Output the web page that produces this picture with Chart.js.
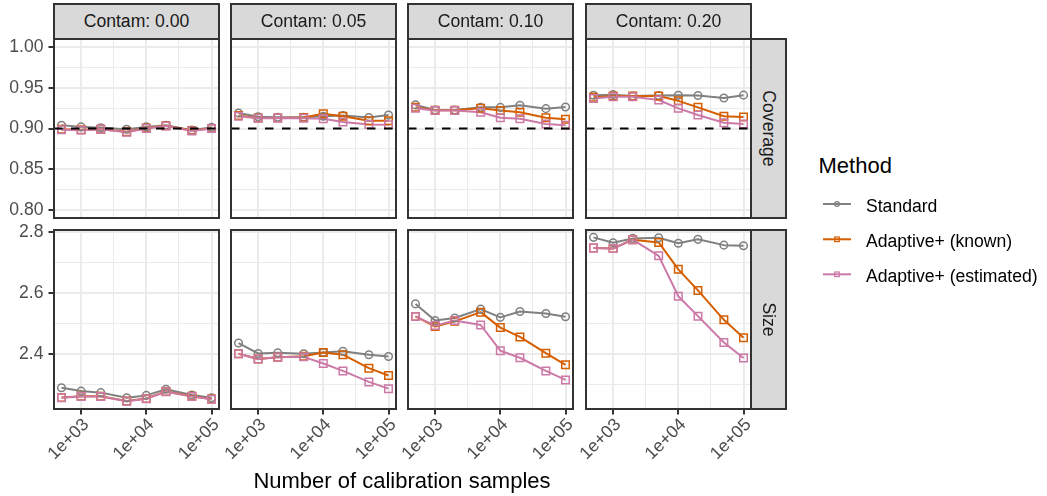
<!DOCTYPE html>
<html><head><meta charset="utf-8">
<script src="https://cdn.jsdelivr.net/npm/chart.js@4.4.1/dist/chart.umd.min.js"></script>
<style>
html,body{margin:0;padding:0;background:#fff;}
body{width:1047px;height:496px;overflow:hidden;position:relative;font-family:"Liberation Sans",Arial,sans-serif;}
canvas{position:absolute;}
.strip{position:absolute;background:#D9D9D9;border:2px solid #333;box-sizing:border-box;color:#1A1A1A;font-size:17.6px;display:flex;align-items:center;justify-content:center;white-space:nowrap;z-index:2;}
.strip span{display:inline-block;}
.txt{position:absolute;white-space:nowrap;z-index:3;}
</style></head><body>
<script>
// ---------------- DATA ----------------
const N_CAL = [500, 1000, 2000, 5000, 10000, 20000, 50000, 100000];
const METHODS = ['Standard', 'Adaptive+ (known)', 'Adaptive+ (estimated)'];
const CONTAM = ['0.00', '0.05', '0.10', '0.20'];
const ROW_LABELS = ['Coverage', 'Size'];
const TARGET_COVERAGE = 0.90;

// Coverage
const COV_STD_000 = [0.904, 0.902, 0.901, 0.899, 0.902, 0.904, 0.898, 0.9015];
const COV_KN_000  = [0.899, 0.8985, 0.899, 0.896, 0.9005, 0.9035, 0.8975, 0.900];
const COV_EST_000 = [0.8985, 0.898, 0.899, 0.8955, 0.900, 0.903, 0.897, 0.900];
const COV_STD_005 = [0.919, 0.9145, 0.9138, 0.9138, 0.915, 0.916, 0.9135, 0.9165];
const COV_KN_005  = [0.916, 0.913, 0.913, 0.9135, 0.918, 0.915, 0.9096, 0.9095];
const COV_EST_005 = [0.915, 0.9125, 0.913, 0.9125, 0.912, 0.908, 0.9048, 0.9045];
const COV_STD_010 = [0.929, 0.9227, 0.9227, 0.926, 0.926, 0.9285, 0.9244, 0.9264];
const COV_KN_010  = [0.926, 0.9223, 0.9223, 0.9248, 0.922, 0.920, 0.9133, 0.9113];
const COV_EST_010 = [0.925, 0.922, 0.922, 0.920, 0.9133, 0.912, 0.9055, 0.904];
const COV_STD_020 = [0.9408, 0.9416, 0.940, 0.9405, 0.9408, 0.9405, 0.9375, 0.941];
const COV_KN_020  = [0.9383, 0.940, 0.940, 0.940, 0.934, 0.926, 0.915, 0.914];
const COV_EST_020 = [0.937, 0.939, 0.939, 0.935, 0.9248, 0.9166, 0.907, 0.9055];

// Size
const SIZE_STD_000 = [2.290, 2.279, 2.274, 2.257, 2.265, 2.285, 2.266, 2.257];
const SIZE_KN_000  = [2.258, 2.262, 2.262, 2.247, 2.255, 2.278, 2.262, 2.253];
const SIZE_EST_000 = [2.257, 2.261, 2.261, 2.246, 2.254, 2.277, 2.261, 2.252];
const SIZE_STD_005 = [2.436, 2.402, 2.404, 2.401, 2.405, 2.409, 2.398, 2.392];
const SIZE_KN_005  = [2.401, 2.384, 2.390, 2.393, 2.405, 2.398, 2.354, 2.330];
const SIZE_EST_005 = [2.401, 2.384, 2.390, 2.391, 2.369, 2.345, 2.309, 2.287];
const SIZE_STD_010 = [2.564, 2.5095, 2.518, 2.547, 2.520, 2.539, 2.5325, 2.522];
const SIZE_KN_010  = [2.523, 2.490, 2.507, 2.537, 2.4865, 2.456, 2.403, 2.365];
const SIZE_EST_010 = [2.523, 2.493, 2.5095, 2.495, 2.411, 2.388, 2.345, 2.3155];
const SIZE_STD_020 = [2.7815, 2.764, 2.778, 2.780, 2.762, 2.775, 2.756, 2.754];
const SIZE_KN_020  = [2.747, 2.745, 2.774, 2.765, 2.677, 2.608, 2.512, 2.4536];
const SIZE_EST_020 = [2.747, 2.745, 2.774, 2.721, 2.589, 2.524, 2.438, 2.387];

// Ticks
const X_TICKS = [1e3, 1e4, 1e5];
const X_TICK_LABELS = ['1e+03', '1e+04', '1e+05'];
const X_MINOR = [3162.2777, 31622.777];
const COV_TICKS = [0.80, 0.85, 0.90, 0.95, 1.00];
const COV_TICK_LABELS = ['0.80', '0.85', '0.90', '0.95', '1.00'];
const COV_MINOR = [0.825, 0.875, 0.925, 0.975];
const SIZE_TICKS = [2.4, 2.6, 2.8];
const SIZE_TICK_LABELS = ['2.4', '2.6', '2.8'];
const SIZE_MINOR = [2.3, 2.5, 2.7];

// Axis limits
const X_MIN = 383.7, X_MAX = 130300;
const COV_MIN = 0.79, COV_MAX = 1.01;
const SIZE_MIN = 2.2205, SIZE_MAX = 2.8055;

const COLORS = ['#808080', '#D55E00', '#CC79A7'];

const COVERAGE = [
  [COV_STD_000, COV_KN_000, COV_EST_000],
  [COV_STD_005, COV_KN_005, COV_EST_005],
  [COV_STD_010, COV_KN_010, COV_EST_010],
  [COV_STD_020, COV_KN_020, COV_EST_020]
];
const SIZE = [
  [SIZE_STD_000, SIZE_KN_000, SIZE_EST_000],
  [SIZE_STD_005, SIZE_KN_005, SIZE_EST_005],
  [SIZE_STD_010, SIZE_KN_010, SIZE_EST_010],
  [SIZE_STD_020, SIZE_KN_020, SIZE_EST_020]
];

// ---------------- LAYOUT ----------------
const COLS_L = [54, 231, 408, 586], PW = 165;
const ROWS_T = [39, 230], PH = 179;
const XAXIS_H = 75;
const FONT = 'Liberation Sans';

function findIdx(v, arr) {
  for (let i = 0; i < arr.length; i++) if (Math.abs(arr[i] - v) <= 1e-7 * Math.max(1, Math.abs(v))) return i;
  return -1;
}

const borderPlugin = {
  id: 'panelBorder',
  afterDraw(chart) {
    const { ctx, chartArea: a } = chart;
    ctx.save();
    ctx.strokeStyle = '#333333';
    ctx.lineWidth = 2;
    ctx.strokeRect(a.left, a.top, a.right - a.left, a.bottom - a.top);
    ctx.restore();
  }
};

function gridOpts(majors, showTicks) {
  return {
    color: '#EBEBEB',
    lineWidth: (c) => (c.tick && findIdx(c.tick.value, majors) >= 0) ? 2 : 1,
    drawTicks: showTicks,
    tickLength: 5.5,
    tickWidth: 2,
    tickColor: (c) => (c.tick && findIdx(c.tick.value, majors) >= 0) ? '#333333' : 'rgba(0,0,0,0)'
  };
}

function makePanel(r, c) {
  const padL = c === 0 ? 0 : (r === 1 ? 14 : 2), yW = c === 0 ? 54 : 0, padR = 2, padT = 12;
  const xH = r === 1 ? XAXIS_H : 0, padB = r === 1 ? 0 : 2;
  const w = padL + yW + PW + padR, h = padT + PH + xH + padB;
  const canvas = document.createElement('canvas');
  canvas.width = w; canvas.height = h;
  canvas.style.left = (COLS_L[c] - yW - padL) + 'px';
  canvas.style.top = (ROWS_T[r] - padT) + 'px';
  canvas.style.width = w + 'px'; canvas.style.height = h + 'px';
  document.body.appendChild(canvas);

  const series = r === 0 ? COVERAGE[c] : SIZE[c];
  const datasets = [];
  series.forEach((vals, m) => {
    datasets.push({
      data: N_CAL.map((n, i) => ({ x: n, y: vals[i] })),
      borderColor: COLORS[m], borderWidth: 2, borderJoinStyle: 'round',
      pointRadius: 0, pointHoverRadius: 0, fill: false, tension: 0, order: 20 - m
    });
  });
  series.forEach((vals, m) => {
    datasets.push({
      data: N_CAL.map((n, i) => ({ x: n, y: vals[i] })),
      showLine: false,
      pointStyle: m === 0 ? 'circle' : 'rect',
      pointRadius: m === 0 ? 3.8 : 5.3,
      pointHoverRadius: m === 0 ? 3.8 : 5.3,
      pointBorderWidth: 1.5,
      pointBorderColor: COLORS[m],
      pointBackgroundColor: 'rgba(0,0,0,0)',
      borderColor: COLORS[m],
      order: 10 - m
    });
  });
  if (r === 0) {
    datasets.push({
      data: [{ x: X_MIN, y: TARGET_COVERAGE }, { x: X_MAX, y: TARGET_COVERAGE }],
      borderColor: '#000000', borderWidth: 2, borderDash: [8.5, 8.5],
      pointRadius: 0, pointHoverRadius: 0, fill: false, order: 0
    });
  }

  const yMaj = r === 0 ? COV_TICKS : SIZE_TICKS;
  const yLab = r === 0 ? COV_TICK_LABELS : SIZE_TICK_LABELS;
  const yMin = r === 0 ? COV_MINOR : SIZE_MINOR;

  new Chart(canvas, {
    type: 'line',
    data: { datasets },
    options: {
      responsive: false, animation: false, devicePixelRatio: 1,
      events: [],
      layout: { autoPadding: false, padding: { left: padL, right: padR, top: padT, bottom: padB } },
      plugins: { legend: { display: false }, tooltip: { enabled: false } },
      scales: {
        x: {
          type: 'logarithmic', min: X_MIN, max: X_MAX,
          afterBuildTicks: (s) => { s.ticks = X_TICKS.concat(X_MINOR).sort((a, b) => a - b).map(v => ({ value: v })); },
          afterFit: (s) => { s.height = xH; s.paddingLeft = 0; s.paddingRight = 0; },
          border: { display: false },
          grid: gridOpts(X_TICKS, r === 1),
          ticks: {
            display: r === 1, autoSkip: false, minRotation: 45, maxRotation: 45, padding: 0, labelOffset: 5,
            color: '#4D4D4D', font: { family: FONT, size: 17.6 },
            callback: (v) => { const i = findIdx(v, X_TICKS); return i >= 0 ? X_TICK_LABELS[i] : ''; }
          }
        },
        y: {
          type: 'linear',
          min: r === 0 ? COV_MIN : SIZE_MIN, max: r === 0 ? COV_MAX : SIZE_MAX,
          afterBuildTicks: (s) => { s.ticks = yMaj.concat(yMin).sort((a, b) => a - b).map(v => ({ value: v })); },
          afterFit: (s) => { s.width = yW; s.paddingTop = 0; s.paddingBottom = 0; },
          border: { display: false },
          grid: gridOpts(yMaj, c === 0),
          ticks: {
            display: c === 0, autoSkip: false, padding: 5,
            color: '#4D4D4D', font: { family: FONT, size: 17.6 },
            callback: (v) => { const i = findIdx(v, yMaj); return i >= 0 ? yLab[i] : ''; }
          }
        }
      }
    },
    plugins: [borderPlugin]
  });
}

// strips
function addDiv(cls, style, text, rotate) {
  const d = document.createElement('div');
  d.className = cls;
  Object.assign(d.style, style);
  const s = document.createElement('span');
  s.textContent = text;
  if (rotate) s.style.transform = 'rotate(90deg)';
  d.appendChild(s);
  document.body.appendChild(d);
  return d;
}

CONTAM.forEach((lab, c) => {
  addDiv('strip', { left: (COLS_L[c] - 1) + 'px', top: '3px', width: (PW + 2) + 'px', height: '37px' }, 'Contam: ' + lab, false);
});
ROW_LABELS.forEach((lab, r) => {
  addDiv('strip', { left: (COLS_L[3] + PW - 1) + 'px', top: (ROWS_T[r] - 1) + 'px', width: '37px', height: (PH + 2) + 'px' }, lab, true);
});

for (let r = 0; r < 2; r++) for (let c = 0; c < 4; c++) makePanel(r, c);

// axis title
const xt = document.createElement('div');
xt.className = 'txt';
xt.textContent = 'Number of calibration samples';
Object.assign(xt.style, { left: '0px', width: '804px', textAlign: 'center', top: (480.5 - 15) + 'px', lineHeight: '30px', fontSize: '22px', color: '#000' });
document.body.appendChild(xt);

// legend
const lt = document.createElement('div');
lt.className = 'txt';
lt.textContent = 'Method';
Object.assign(lt.style, { left: '818.5px', top: (166.3 - 15) + 'px', lineHeight: '30px', fontSize: '22px', color: '#000' });
document.body.appendChild(lt);

const KEY_Y = [204, 239.3, 274.3];
const svgNS = 'http://www.w3.org/2000/svg';
const svg = document.createElementNS(svgNS, 'svg');
svg.setAttribute('width', '60'); svg.setAttribute('height', '120');
Object.assign(svg.style, { position: 'absolute', left: '810px', top: '180px', zIndex: 3 });
document.body.appendChild(svg);
METHODS.forEach((name, m) => {
  const y = KEY_Y[m] - 180;
  const ln = document.createElementNS(svgNS, 'line');
  ln.setAttribute('x1', 13); ln.setAttribute('x2', 41); ln.setAttribute('y1', y); ln.setAttribute('y2', y);
  ln.setAttribute('stroke', COLORS[m]); ln.setAttribute('stroke-width', 2);
  svg.appendChild(ln);
  let sh;
  if (m === 0) {
    sh = document.createElementNS(svgNS, 'circle');
    sh.setAttribute('cx', 27); sh.setAttribute('cy', y); sh.setAttribute('r', 2.4);
  } else {
    sh = document.createElementNS(svgNS, 'rect');
    sh.setAttribute('x', 27 - 2.3); sh.setAttribute('y', y - 2.3); sh.setAttribute('width', 4.6); sh.setAttribute('height', 4.6);
  }
  sh.setAttribute('fill', 'none'); sh.setAttribute('stroke', COLORS[m]); sh.setAttribute('stroke-width', 1.2);
  svg.appendChild(sh);
  const t = document.createElement('div');
  t.className = 'txt';
  t.textContent = name;
  Object.assign(t.style, { left: '866px', top: (KEY_Y[m] + 1.5 - 12) + 'px', lineHeight: '24px', fontSize: '17.6px', color: '#000' });
  document.body.appendChild(t);
});
</script>
</body></html>
